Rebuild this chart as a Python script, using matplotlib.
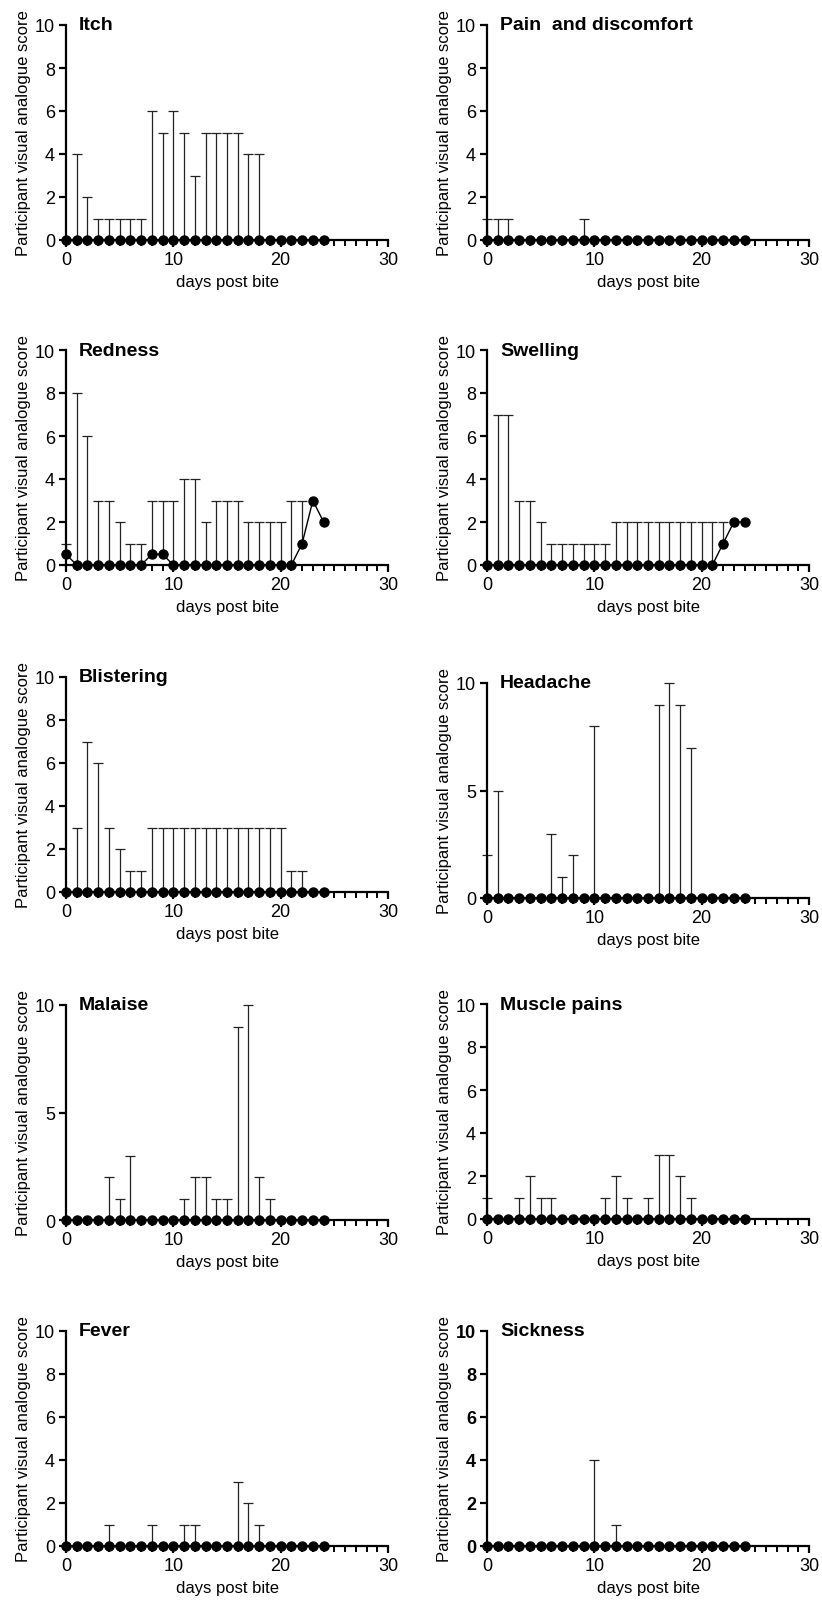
import numpy as np
import matplotlib
matplotlib.use("Agg")
import matplotlib.pyplot as plt
from matplotlib.ticker import MultipleLocator

plt.rcParams['font.family'] = ['Liberation Sans', 'DejaVu Sans']

days = np.arange(25)

titles = ["Itch", "Pain  and discomfort", "Redness", "Swelling", "Blistering",
          "Headache", "Malaise", "Muscle pains", "Fever", "Sickness"]

# medians (all zero unless listed)
itch_med = [0] * 25
pain_med = [0] * 25
redness_med = [0.5, 0, 0, 0, 0, 0, 0, 0, 0.5, 0.5, 0, 0, 0, 0, 0, 0, 0, 0, 0, 0, 0, 0, 1, 3, 2]
swelling_med = [0] * 22 + [1, 2, 2]
blister_med = [0] * 25
headache_med = [0] * 25
malaise_med = [0] * 25
muscle_med = [0] * 25
fever_med = [0] * 25
sickness_med = [0] * 25

# upper end of the error bar per day
itch_up = [0, 4, 2, 1, 1, 1, 1, 1, 6, 5, 6, 5, 3, 5, 5, 5, 5, 4, 4, 0, 0, 0, 0, 0, 0]
pain_up = [1, 1, 1, 0, 0, 0, 0, 0, 0, 1, 0, 0, 0, 0, 0, 0, 0, 0, 0, 0, 0, 0, 0, 0, 0]
redness_up = [1, 8, 6, 3, 3, 2, 1, 1, 3, 3, 3, 4, 4, 2, 3, 3, 3, 2, 2, 2, 2, 3, 3, 3, 2]
swelling_up = [0, 7, 7, 3, 3, 2, 1, 1, 1, 1, 1, 1, 2, 2, 2, 2, 2, 2, 2, 2, 2, 2, 2, 2, 2]
blister_up = [0, 3, 7, 6, 3, 2, 1, 1, 3, 3, 3, 3, 3, 3, 3, 3, 3, 3, 3, 3, 3, 1, 1, 0, 0]
headache_up = [2, 5, 0, 0, 0, 0, 3, 1, 2, 0, 8, 0, 0, 0, 0, 0, 9, 10, 9, 7, 0, 0, 0, 0, 0]
malaise_up = [0, 0, 0, 0, 2, 1, 3, 0, 0, 0, 0, 1, 2, 2, 1, 1, 9, 10, 2, 1, 0, 0, 0, 0, 0]
muscle_up = [1, 0, 0, 1, 2, 1, 1, 0, 0, 0, 0, 1, 2, 1, 0, 1, 3, 3, 2, 1, 0, 0, 0, 0, 0]
fever_up = [0, 0, 0, 0, 1, 0, 0, 0, 1, 0, 0, 1, 1, 0, 0, 0, 3, 2, 1, 0, 0, 0, 0, 0, 0]
sickness_up = [0, 0, 0, 0, 0, 0, 0, 0, 0, 0, 4, 0, 1, 0, 0, 0, 0, 0, 0, 0, 0, 0, 0, 0, 0]

medians = [itch_med, pain_med, redness_med, swelling_med, blister_med,
           headache_med, malaise_med, muscle_med, fever_med, sickness_med]
uppers = [itch_up, pain_up, redness_up, swelling_up, blister_up,
          headache_up, malaise_up, muscle_up, fever_up, sickness_up]
ystep = [2, 2, 2, 2, 2, 5, 5, 2, 2, 2]

fig = plt.figure(figsize=(8.22, 16.06), dpi=100)

# axes origin (px) per panel: (x0, y0)
lefts = [66, 487]
bottoms = [(241, 241), (566, 566), (893, 899), (1221, 1220), (1547, 1547)]
W, H = 322, 215

for i in range(10):
    row, col = divmod(i, 2)
    x0 = lefts[col]
    y0 = bottoms[row][col]
    ax = fig.add_axes([x0 / 822, 1 - y0 / 1606, W / 822, H / 1606])

    med = np.array(medians[i], dtype=float)
    up = np.array(uppers[i], dtype=float)
    has = up > med
    ax.errorbar(days[has], med[has], yerr=[np.zeros(has.sum()), up[has] - med[has]],
                fmt='none', ecolor='#222222', elinewidth=0.9, capsize=3.3,
                capthick=0.9, clip_on=False, zorder=2)
    ax.plot(days, med, '-o', color='black', lw=1.0, ms=6.5, clip_on=False, zorder=3)

    ax.set_xlim(0, 30)
    ax.set_ylim(0, 10)
    ax.xaxis.set_major_locator(MultipleLocator(10))
    ax.xaxis.set_minor_locator(MultipleLocator(1))
    ax.yaxis.set_major_locator(MultipleLocator(ystep[i]))
    for s in ['top', 'right']:
        ax.spines[s].set_visible(False)
    for s in ['left', 'bottom']:
        ax.spines[s].set_linewidth(1.6)
    ax.tick_params(which='major', length=5, width=1.6, labelsize=13, pad=3)
    ax.tick_params(which='minor', length=4, width=1.4)
    if titles[i] == "Sickness":
        for lab in ax.get_yticklabels():
            lab.set_fontweight('bold')

    ax.set_xlabel("days post bite", fontsize=12, labelpad=4)
    ax.set_ylabel("Participant visual analogue score", fontsize=12, labelpad=3)
    ax.text(0.04, 1.0, titles[i], transform=ax.transAxes, ha='left', va='center',
            fontsize=14, fontweight='bold')

fig.savefig("out.png", dpi=100)
